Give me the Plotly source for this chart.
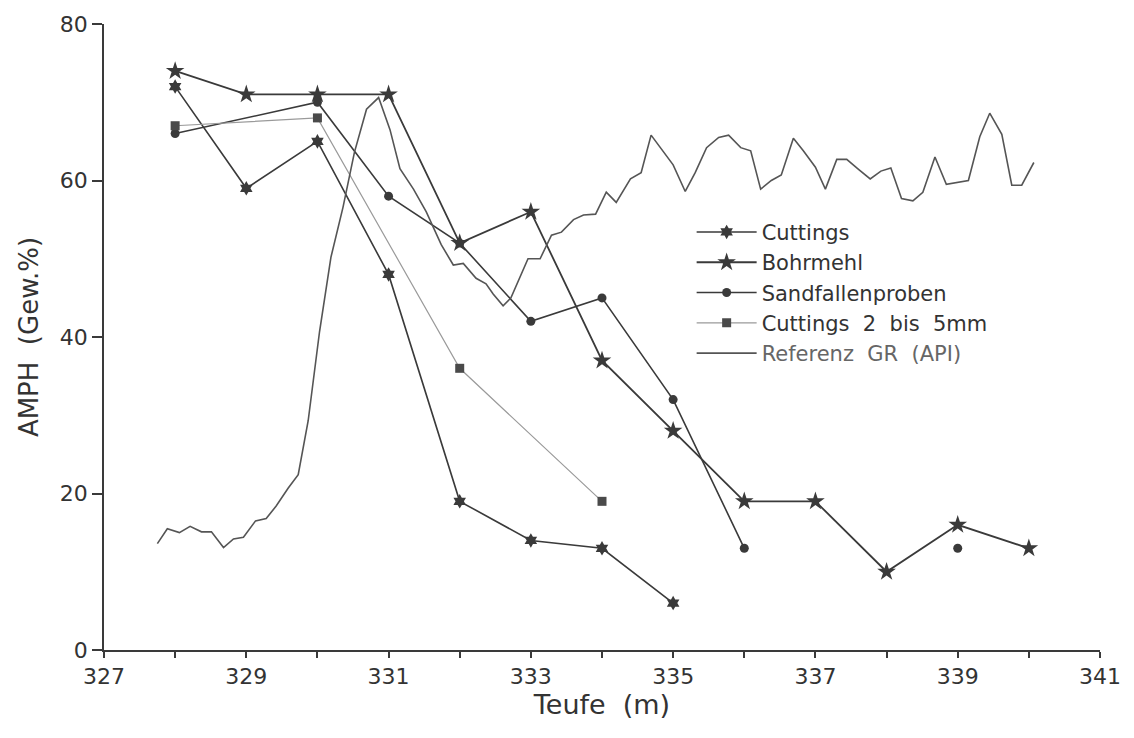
import plotly.graph_objects as go

# --- data ---
cut_x = [328, 329, 330, 331, 332, 333, 334, 335]
cut_y = [72, 59, 65, 48, 19, 14, 13, 6]

bohr_x = [328, 329, 330, 331, 332, 333, 334, 335, 336, 337, 338, 339, 340]
bohr_y = [74, 71, 71, 71, 52, 56, 37, 28, 19, 19, 10, 16, 13]

sand_x = [328, 330, 331, 332, 333, 334, 335, 336, 337, 339]
sand_y = [66, 70, 58, 52, 42, 45, 32, 13, None, 13]

cut25_x = [328, 330, 332, 334]
cut25_y = [67, 68, 36, 19]

gr_x = [327.75, 327.89, 328.06, 328.21, 328.37, 328.51, 328.68, 328.82, 328.96,
        329.13, 329.28, 329.42, 329.59, 329.73, 329.87, 330.03, 330.19, 330.36,
        330.52, 330.69, 330.86, 331.02, 331.16, 331.35, 331.53, 331.74, 331.91,
        332.05, 332.23, 332.37, 332.47, 332.61, 332.72, 332.96, 333.13, 333.29,
        333.43, 333.60, 333.74, 333.91, 334.06, 334.20, 334.40, 334.55, 334.69,
        335.00, 335.17, 335.31, 335.47, 335.64, 335.78, 335.95, 336.09, 336.23,
        336.38, 336.52, 336.69, 336.83, 337.00, 337.14, 337.30, 337.44, 337.61,
        337.77, 337.92, 338.06, 338.21, 338.37, 338.51, 338.68, 338.84, 338.98,
        339.15, 339.31, 339.45, 339.62, 339.76, 339.90, 340.07]
gr_y = [13.6, 15.5, 15.0, 15.8, 15.1, 15.1, 13.1, 14.2, 14.4,
        16.5, 16.8, 18.4, 20.7, 22.4, 29.3, 40.7, 50.2, 56.6,
        63.6, 69.1, 70.6, 66.5, 61.5, 58.9, 56.0, 51.8, 49.2,
        49.4, 47.5, 46.8, 45.5, 44.0, 45.0, 50.0, 50.0, 53.0,
        53.4, 55.0, 55.6, 55.7, 58.5, 57.2, 60.2, 61.0, 65.8,
        62.0, 58.6, 61.0, 64.2, 65.5, 65.8, 64.2, 63.8, 58.9,
        60.0, 60.7, 65.4, 63.8, 61.7, 58.9, 62.7, 62.7, 61.4,
        60.2, 61.2, 61.6, 57.7, 57.4, 58.5, 63.0, 59.5, 59.7,
        60.0, 65.6, 68.6, 65.9, 59.4, 59.4, 62.3]

x_ticks = [327, 329, 331, 333, 335, 337, 339, 341]
y_ticks = [0, 20, 40, 60, 80]

dark = "#3a3a3a"
fig = go.Figure()

fig.add_trace(go.Scatter(x=cut_x, y=cut_y, name="Cuttings", mode="lines+markers",
                         line=dict(color=dark, width=1.6),
                         marker=dict(symbol="hexagram", size=11, color=dark)))
fig.add_trace(go.Scatter(x=bohr_x, y=bohr_y, name="Bohrmehl", mode="lines+markers",
                         line=dict(color=dark, width=1.8),
                         marker=dict(symbol="star", size=14, color=dark)))
fig.add_trace(go.Scatter(x=sand_x, y=sand_y, name="Sandfallenproben", mode="lines+markers",
                         connectgaps=False,
                         line=dict(color=dark, width=1.6),
                         marker=dict(symbol="circle", size=9, color=dark)))
fig.add_trace(go.Scatter(x=cut25_x, y=cut25_y, name="Cuttings  2  bis  5mm", mode="lines+markers",
                         line=dict(color="#9a9a9a", width=1.2),
                         marker=dict(symbol="square", size=9, color="#4a4a4a")))
fig.add_trace(go.Scatter(x=gr_x, y=gr_y, name="<span style='color:#666'>Referenz  GR  (API)</span>",
                         mode="lines",
                         line=dict(color="#555555", width=1.6)))

fig.update_layout(
    width=1134, height=738,
    margin=dict(l=104, r=34, t=21, b=88),
    plot_bgcolor="white", paper_bgcolor="white",
    font=dict(family="DejaVu Sans", size=22, color="#333333"),
    showlegend=True,
    legend=dict(x=0.59, y=0.70, xanchor="left", yanchor="top",
                bgcolor="rgba(255,255,255,0)", font=dict(size=21, color="#333333"),
                itemwidth=60, tracegroupgap=0),
    xaxis=dict(range=[327, 341], tickvals=x_ticks, ticktext=[str(v) for v in x_ticks],
               showgrid=False, zeroline=False, showline=True, linecolor=dark, linewidth=1.5,
               ticks="outside", ticklen=6, tickwidth=1.5, tickcolor=dark,
               minor=dict(dtick=1, tick0=327, ticks="outside", ticklen=6, tickwidth=1.5, tickcolor=dark),
               title=dict(text="Teufe  (m)", font=dict(size=27), standoff=6),
               tickfont=dict(size=22)),
    yaxis=dict(range=[0, 80], tickvals=y_ticks, showgrid=False, zeroline=False,
               showline=True, linecolor=dark, linewidth=1.5,
               ticks="outside", ticklen=10, tickwidth=1.5, tickcolor=dark,
               title=dict(text="AMPH  (Gew.%)", font=dict(size=26), standoff=14),
               tickfont=dict(size=22)),
)

fig.write_html("out.html")
